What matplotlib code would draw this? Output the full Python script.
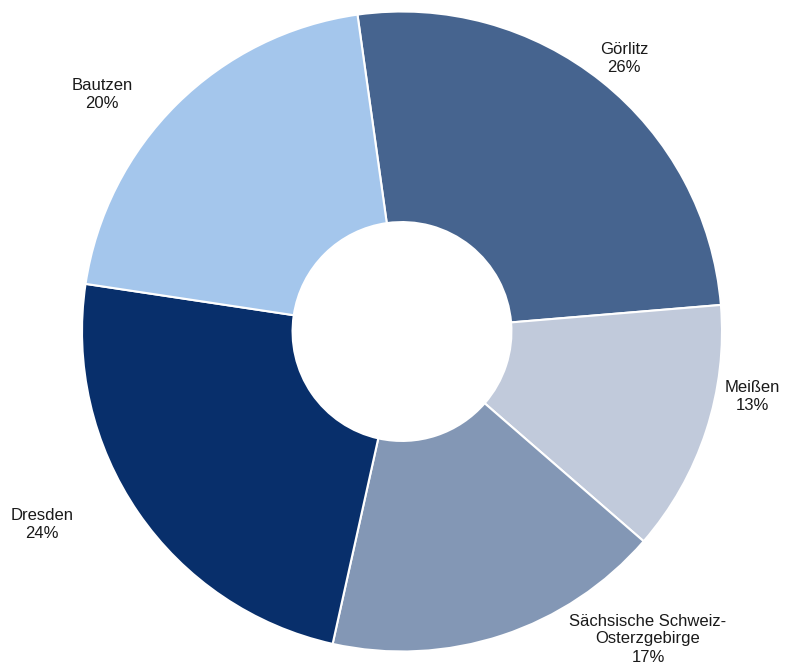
import matplotlib.pyplot as plt

plt.rcParams['font.family'] = ['Liberation Sans', 'DejaVu Sans']

districts = ['Görlitz', 'Meißen', 'Sächsische Schweiz-\nOsterzgebirge', 'Dresden', 'Bautzen']
shares = [25.9, 12.7, 17.1, 23.9, 20.4]
colors = ['#46648f', '#c1cadb', '#8397b5', '#082f6b', '#a4c6ec']

# label anchor points (pixels, y from top)
label_pos = [(624, 59), (752, 397), (648, 639), (42, 525), (102, 95)]

W, H = 789, 671
fig = plt.figure(figsize=(W / 100, H / 100), dpi=100)
ax = fig.add_axes([0, 0, 1, 1])

R = 320
ax.pie(shares, colors=colors, startangle=98, counterclock=False,
       radius=R, center=(402, H - 331.5),
       wedgeprops=dict(width=R * 0.658, edgecolor='white', linewidth=1.5))

for name, val, (x, y) in zip(districts, shares, label_pos):
    ax.text(x, H - y, f'{name}\n{val:.0f}%', ha='center', va='center',
            fontsize=12, color='#1a1a1a', linespacing=1.25)

ax.set_xlim(0, W)
ax.set_ylim(0, H)
ax.set_aspect('equal')
ax.axis('off')

fig.savefig('out.png', dpi=100)
